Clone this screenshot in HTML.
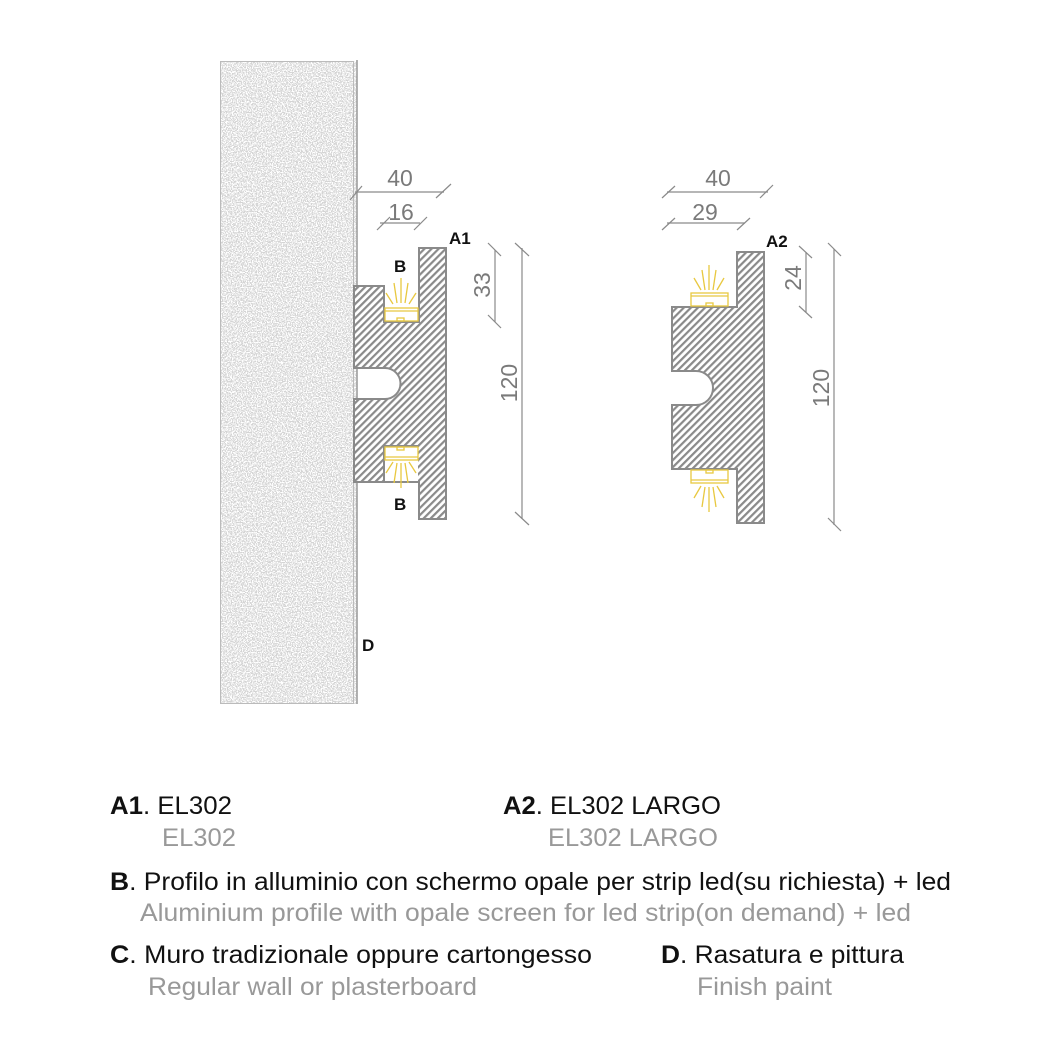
<!DOCTYPE html>
<html><head><meta charset="utf-8"><style>
html,body{margin:0;padding:0;background:#fff;}
svg{display:block}
</style></head><body>
<svg width="1060" height="1060" viewBox="0 0 1060 1060" xmlns="http://www.w3.org/2000/svg">
<defs>
<pattern id="h" patternUnits="userSpaceOnUse" width="5" height="5" patternTransform="rotate(45)">
<rect width="5" height="5" fill="#fff"/>
<rect width="2.2" height="5" fill="#8a8a8a"/>
</pattern>
<filter id="n" x="0" y="0" width="100%" height="100%">
<feTurbulence type="fractalNoise" baseFrequency="0.8" numOctaves="2" seed="3"/>
<feColorMatrix type="matrix" values="0 0 0 0 0.4  0 0 0 0 0.4  0 0 0 0 0.4  0 0 0 -14 7.6"/>
<feComposite in2="SourceGraphic" operator="in"/>
</filter>
</defs>
<!-- wall -->
<rect x="220" y="61" width="137" height="643" fill="#fff"/>
<rect x="220" y="61" width="137" height="643" fill="#000" filter="url(#n)" opacity="0.5"/>
<rect x="220.5" y="61.5" width="133" height="642" fill="none" stroke="#bbb" stroke-width="1"/>
<line x1="357" y1="60" x2="357" y2="704" stroke="#999" stroke-width="1.5"/>
<text x="362" y="651" font-family="Liberation Sans, sans-serif" font-weight="bold" font-size="17" fill="#111">D</text>

<!-- A1 profile -->
<path d="M419 248 H446 V519 H419 V482 H354 V399 H385 A15.5 15.5 0 0 0 385 368 H354 V286 H384 V322 H419 Z" fill="url(#h)" stroke="#8a8a8a" stroke-width="2"/>
<rect x="385" y="447" width="33" height="34" fill="#fff"/>
<path d="M419 446 H384 V482" fill="none" stroke="#8a8a8a" stroke-width="2"/>
<g stroke="#e8c840" fill="none" stroke-width="1.3">
<rect x="385" y="308" width="33" height="13" fill="#fff"/>
<line x1="385" y1="311" x2="418" y2="311"/>
<rect x="397" y="318" width="7" height="3"/>
<rect x="385" y="447" width="33" height="13" fill="#fff"/>
<line x1="385" y1="457" x2="418" y2="457"/>
<rect x="397" y="447" width="7" height="3"/>
<line x1="401" y1="278" x2="401" y2="303"/><line x1="394" y1="283" x2="397" y2="303"/><line x1="408" y1="283" x2="405" y2="303"/><line x1="386" y1="293" x2="393" y2="304"/><line x1="416" y1="293" x2="409" y2="304"/>
<line x1="401" y1="463" x2="401" y2="488"/><line x1="397" y1="463" x2="394" y2="483"/><line x1="405" y1="463" x2="408" y2="483"/><line x1="393" y1="462" x2="386" y2="473"/><line x1="409" y1="462" x2="416" y2="473"/>
</g>
<g font-family="Liberation Sans, sans-serif" font-weight="bold" font-size="17" fill="#111">
<text x="394" y="272">B</text><text x="394" y="510">B</text>
<text x="449" y="244">A1</text><text x="766" y="247">A2</text>
</g>

<!-- A2 profile -->
<path d="M737 252 H764 V523 H737 V469 H672 V405 H696 A17 17 0 0 0 696 371 H672 V307 H737 Z" fill="url(#h)" stroke="#8a8a8a" stroke-width="2"/>
<g stroke="#e8c840" fill="none" stroke-width="1.3">
<rect x="691" y="293" width="37" height="13" fill="#fff"/>
<line x1="691" y1="296" x2="728" y2="296"/>
<rect x="706" y="303" width="7" height="3"/>
<rect x="691" y="470" width="37" height="13" fill="#fff"/>
<line x1="691" y1="480" x2="728" y2="480"/>
<rect x="706" y="470" width="7" height="3"/>
<line x1="709" y1="265" x2="709" y2="290"/><line x1="702" y1="270" x2="705" y2="290"/><line x1="716" y1="270" x2="713" y2="290"/><line x1="694" y1="278" x2="701" y2="290"/><line x1="724" y1="278" x2="717" y2="290"/>
<line x1="709" y1="487" x2="709" y2="512"/><line x1="705" y1="487" x2="702" y2="507"/><line x1="713" y1="487" x2="716" y2="507"/><line x1="701" y1="486" x2="694" y2="498"/><line x1="717" y1="486" x2="724" y2="498"/>
</g>

<!-- dimensions -->
<g stroke="#8a8a8a" stroke-width="1.2" fill="none">
<line x1="355" y1="192" x2="444" y2="192"/><line x1="350" y1="200" x2="362" y2="186"/><line x1="436" y1="198" x2="451" y2="184"/>
<line x1="380" y1="223" x2="420" y2="223"/><line x1="377" y1="230" x2="390" y2="217"/><line x1="414" y1="230" x2="427" y2="217"/>
<line x1="495" y1="250" x2="495" y2="322"/><line x1="488" y1="243" x2="501" y2="256"/><line x1="488" y1="315" x2="501" y2="328"/>
<line x1="522" y1="248" x2="522" y2="519"/><line x1="515" y1="243" x2="529" y2="256"/><line x1="515" y1="512" x2="529" y2="525"/>
<line x1="667" y1="192" x2="768" y2="192"/><line x1="662" y1="198" x2="675" y2="186"/><line x1="760" y1="198" x2="773" y2="185"/>
<line x1="667" y1="223" x2="745" y2="223"/><line x1="662" y1="230" x2="675" y2="218"/><line x1="737" y1="230" x2="750" y2="218"/>
<line x1="806" y1="252" x2="806" y2="312"/><line x1="799" y1="246" x2="812" y2="258"/><line x1="799" y1="306" x2="812" y2="318"/>
<line x1="834" y1="249" x2="834" y2="525"/><line x1="828" y1="243" x2="841" y2="256"/><line x1="828" y1="518" x2="841" y2="531"/>
</g>
<g font-family="Liberation Sans, sans-serif" font-size="23" fill="#7a7a7a">
<text x="400" y="186" text-anchor="middle">40</text>
<text x="401" y="220" text-anchor="middle">16</text>
<text x="718" y="186" text-anchor="middle">40</text>
<text x="705" y="220" text-anchor="middle">29</text>
<text transform="translate(490 285) rotate(-90)" text-anchor="middle">33</text>
<text transform="translate(517 383) rotate(-90)" text-anchor="middle">120</text>
<text transform="translate(801 278) rotate(-90)" text-anchor="middle">24</text>
<text transform="translate(829 388) rotate(-90)" text-anchor="middle">120</text>
</g>

<!-- legend -->
<g font-family="Liberation Sans, sans-serif" font-size="25">
<text x="110" y="814" fill="#111" textLength="122" lengthAdjust="spacingAndGlyphs"><tspan font-weight="bold">A1</tspan>. EL302</text>
<text x="162" y="846" fill="#999" textLength="74" lengthAdjust="spacingAndGlyphs">EL302</text>
<text x="503" y="814" fill="#111" textLength="218" lengthAdjust="spacingAndGlyphs"><tspan font-weight="bold">A2</tspan>. EL302 LARGO</text>
<text x="548" y="846" fill="#999" textLength="170" lengthAdjust="spacingAndGlyphs">EL302 LARGO</text>
<text x="110" y="890" fill="#111" textLength="841" lengthAdjust="spacingAndGlyphs"><tspan font-weight="bold">B</tspan>. Profilo in alluminio con schermo opale per strip led(su richiesta) + led</text>
<text x="140" y="921" fill="#999" textLength="771" lengthAdjust="spacingAndGlyphs">Aluminium profile with opale screen for led strip(on demand) + led</text>
<text x="110" y="963" fill="#111" textLength="482" lengthAdjust="spacingAndGlyphs"><tspan font-weight="bold">C</tspan>. Muro tradizionale oppure cartongesso</text>
<text x="148" y="995" fill="#999" textLength="329" lengthAdjust="spacingAndGlyphs">Regular wall or plasterboard</text>
<text x="661" y="963" fill="#111" textLength="243" lengthAdjust="spacingAndGlyphs"><tspan font-weight="bold">D</tspan>. Rasatura e pittura</text>
<text x="697" y="995" fill="#999" textLength="135" lengthAdjust="spacingAndGlyphs">Finish paint</text>
</g>
</svg>
</body></html>
